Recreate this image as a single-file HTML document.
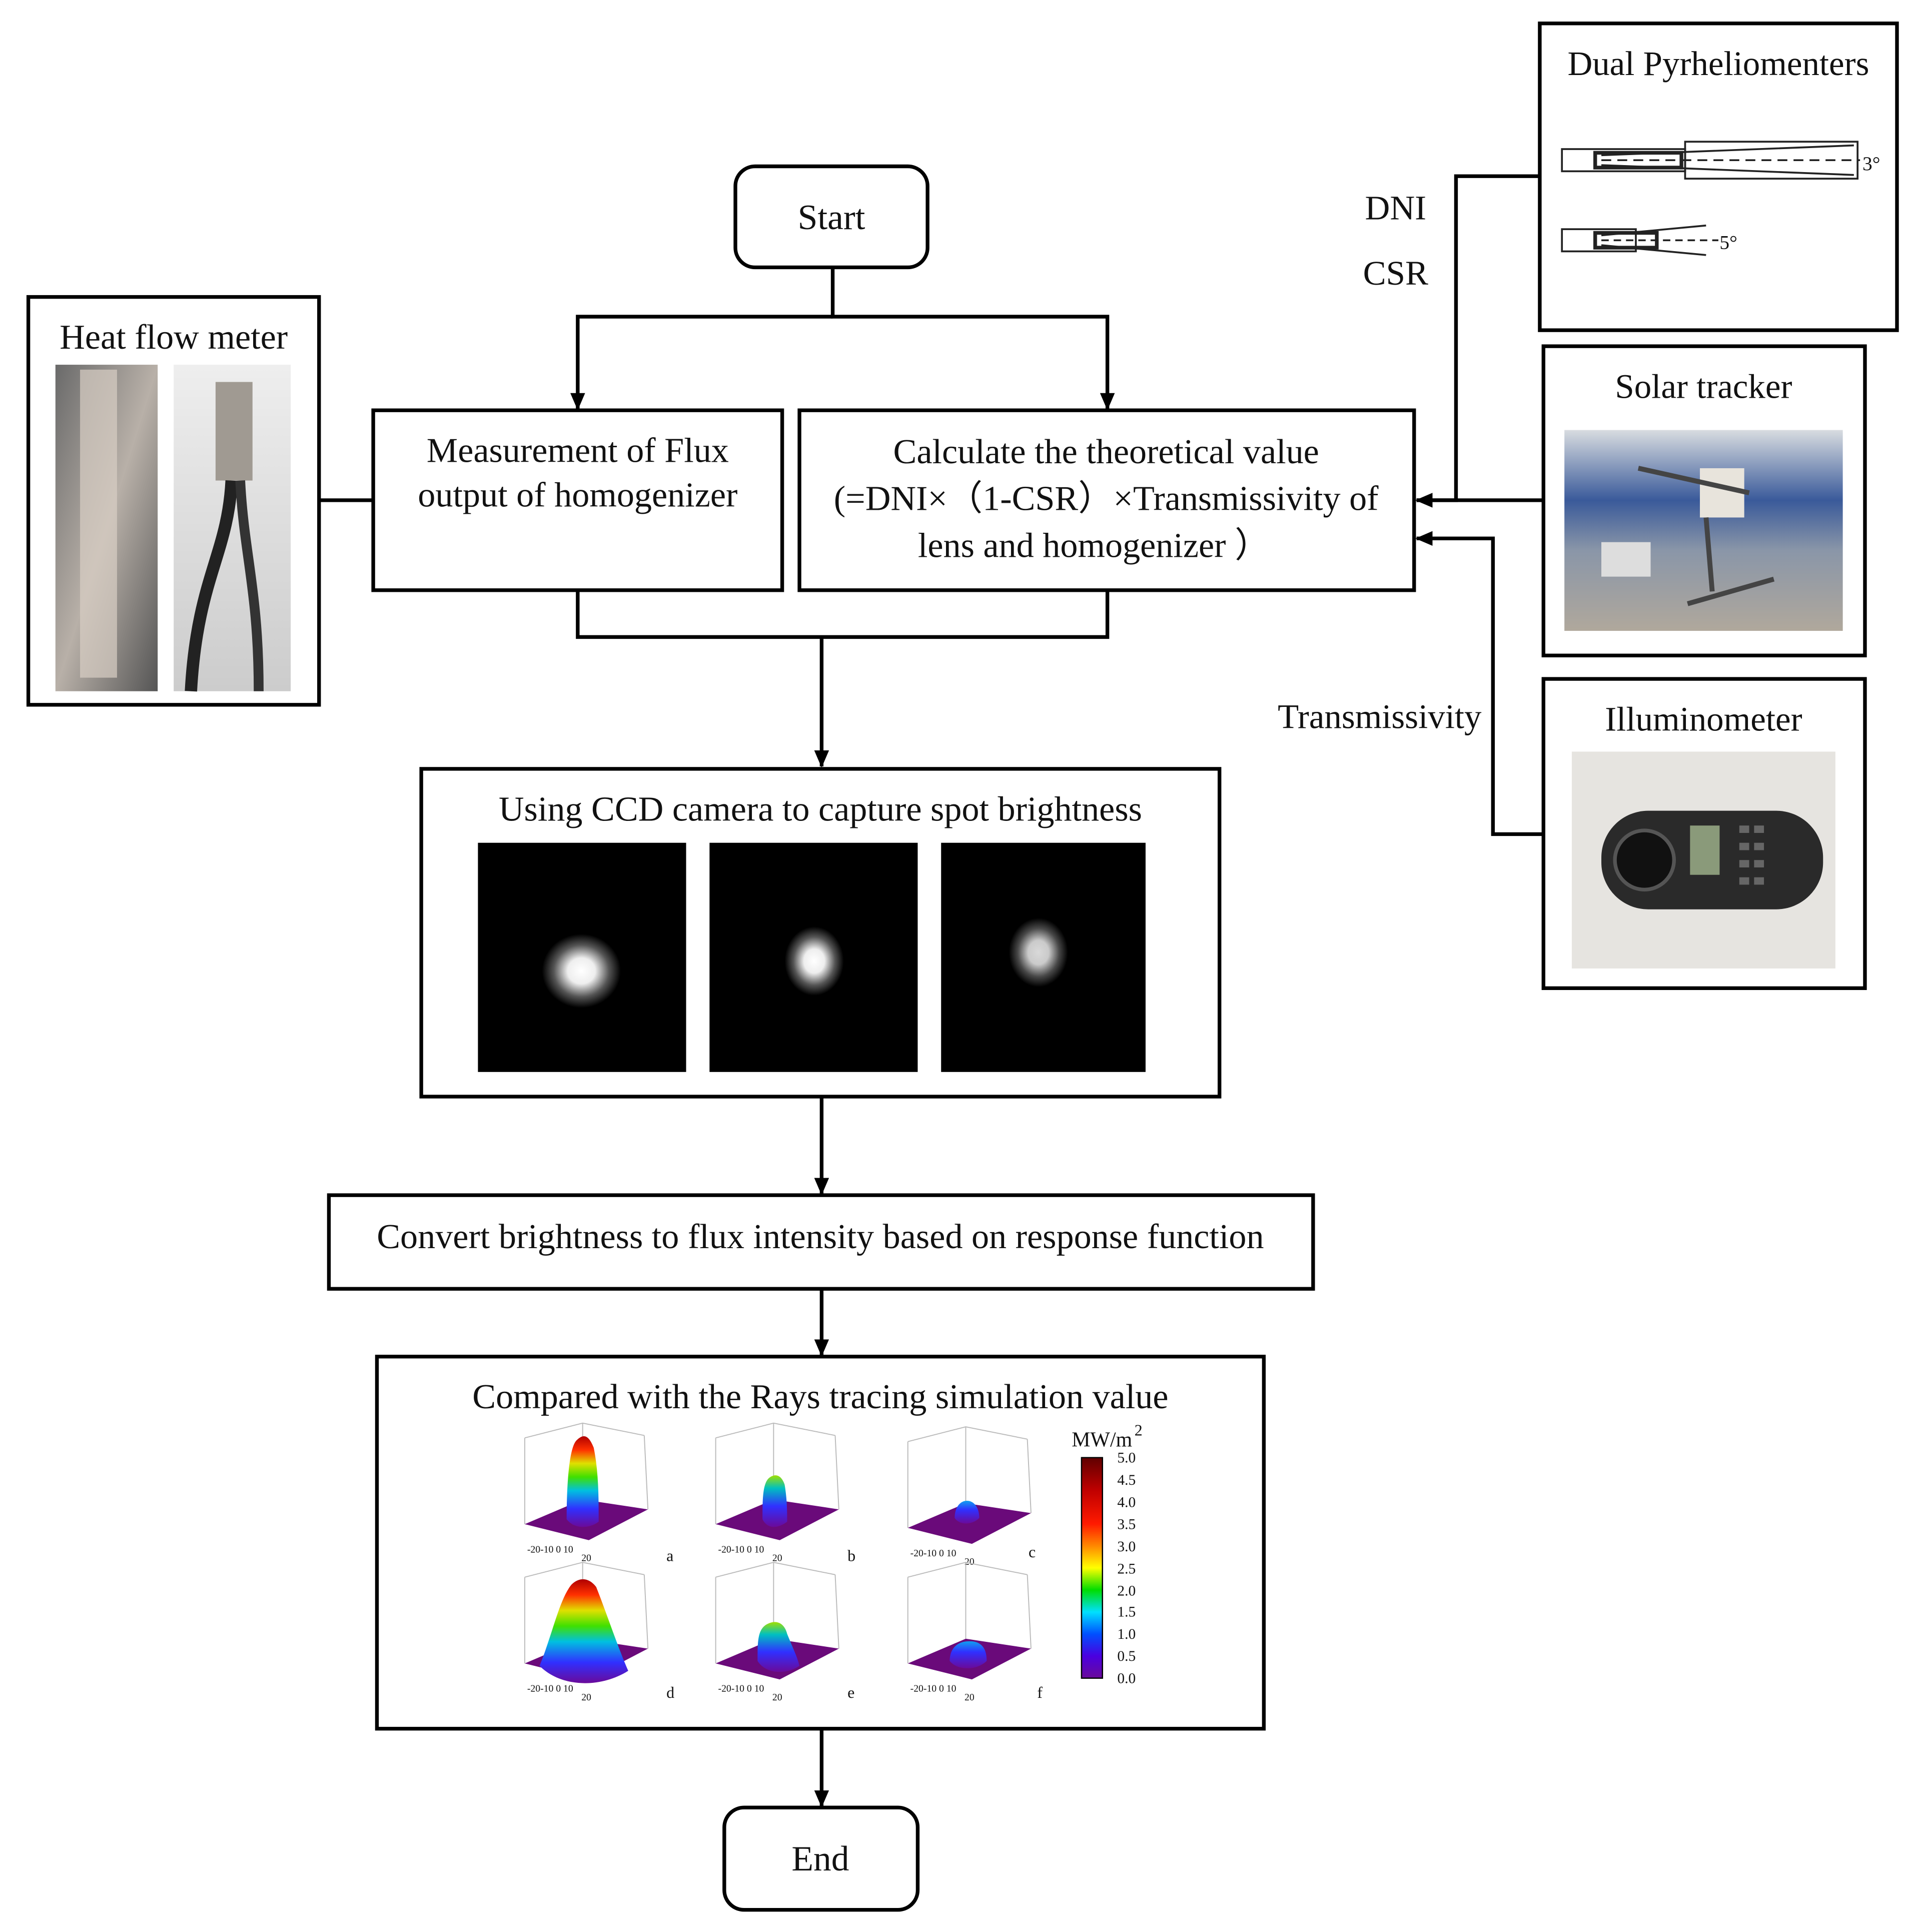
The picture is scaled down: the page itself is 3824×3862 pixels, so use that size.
<!DOCTYPE html>
<html><head><meta charset="utf-8"><style>
html,body{margin:0;padding:0;background:#fff;}
svg{display:block;}
text{font-family:"Liberation Serif",serif;fill:#111;}
</style></head><body>
<svg width="3824" height="3862" viewBox="0 0 1553 1568" preserveAspectRatio="none" xmlns="http://www.w3.org/2000/svg">
<defs>
<marker id="ar" viewBox="0 0 14 12" refX="13" refY="6" markerWidth="14" markerHeight="12" orient="auto" markerUnits="userSpaceOnUse"><path d="M0,0L14,6L0,12z" fill="#000"/></marker>
<linearGradient id="cb" x1="0" y1="1" x2="0" y2="0">
<stop offset="0" stop-color="#6a0a9a"/><stop offset="0.1" stop-color="#4a00e0"/><stop offset="0.2" stop-color="#0050ff"/><stop offset="0.3" stop-color="#00e0ff"/><stop offset="0.4" stop-color="#00dd00"/><stop offset="0.5" stop-color="#ffff00"/><stop offset="0.6" stop-color="#ff8800"/><stop offset="0.7" stop-color="#ff1a00"/><stop offset="0.85" stop-color="#c00000"/><stop offset="1" stop-color="#600000"/>
</linearGradient>
<linearGradient id="bh" x1="0" y1="1" x2="0" y2="0">
<stop offset="0" stop-color="#6a0a9a"/><stop offset="0.2" stop-color="#3030ff"/><stop offset="0.4" stop-color="#00c0e0"/><stop offset="0.55" stop-color="#40e000"/><stop offset="0.7" stop-color="#e0e000"/><stop offset="0.85" stop-color="#ff3000"/><stop offset="1" stop-color="#b00000"/>
</linearGradient>
<linearGradient id="bm" x1="0" y1="1" x2="0" y2="0">
<stop offset="0" stop-color="#6a0a9a"/><stop offset="0.4" stop-color="#3030ff"/><stop offset="0.75" stop-color="#00c0c0"/><stop offset="1" stop-color="#a0e000"/>
</linearGradient>
<linearGradient id="bl" x1="0" y1="1" x2="0" y2="0">
<stop offset="0" stop-color="#6a0a9a"/><stop offset="0.6" stop-color="#3030ff"/><stop offset="1" stop-color="#10a0f0"/>
</linearGradient>
<radialGradient id="sp"><stop offset="0" stop-color="#fff"/><stop offset="0.35" stop-color="#eee"/><stop offset="0.7" stop-color="#555"/><stop offset="1" stop-color="#000"/></radialGradient>
<linearGradient id="ph1" x1="0" y1="0" x2="1" y2="1"><stop offset="0" stop-color="#6a6a6a"/><stop offset="0.5" stop-color="#b8b0a8"/><stop offset="1" stop-color="#555"/></linearGradient>
<linearGradient id="ph2" x1="0" y1="0" x2="0" y2="1"><stop offset="0" stop-color="#eee"/><stop offset="1" stop-color="#ccc"/></linearGradient>
<linearGradient id="sky" x1="0" y1="0" x2="0" y2="1"><stop offset="0" stop-color="#d8dce0"/><stop offset="0.35" stop-color="#3a5a9a"/><stop offset="0.6" stop-color="#8a96a8"/><stop offset="1" stop-color="#b0a89c"/></linearGradient>
</defs>

<!-- Start -->
<rect x="597" y="135" width="156" height="82" rx="16" fill="#fff" stroke="#000" stroke-width="3"/>
<text x="675" y="186" font-size="29" text-anchor="middle">Start</text>

<g stroke="#000" stroke-width="3" fill="none">
<path d="M676,217 V257 H899 V332" marker-end="url(#ar)"/>
<path d="M676,257 H469 V332" marker-end="url(#ar)"/>
<path d="M469,479 V517 H899 V479"/>
<path d="M667,517 V622" marker-end="url(#ar)"/>
<path d="M667,890 V969" marker-end="url(#ar)"/>
<path d="M667,1046 V1100" marker-end="url(#ar)"/>
<path d="M667,1403 V1466" marker-end="url(#ar)"/>
<path d="M259,406 H303"/>
<path d="M1250,143 H1182 V406 H1150" marker-end="url(#ar)"/>
<path d="M1253,406 H1150" marker-end="url(#ar)"/>
<path d="M1253,677 H1212 V437 H1150" marker-end="url(#ar)"/>
</g>

<!-- Measurement -->
<rect x="303" y="333" width="332" height="146" fill="#fff" stroke="#000" stroke-width="3"/>
<text x="469" y="375" font-size="28.5" text-anchor="middle">Measurement of Flux</text>
<text x="469" y="411" font-size="28.5" text-anchor="middle">output of homogenizer</text>

<!-- Calculate -->
<rect x="649" y="333" width="499" height="146" fill="#fff" stroke="#000" stroke-width="3"/>
<text x="898" y="376" font-size="28.5" text-anchor="middle">Calculate the theoretical value</text>
<text x="898" y="414" font-size="28.5" text-anchor="middle">(=DNI×（1-CSR）×Transmissivity of</text>
<text x="888" y="452" font-size="28.5" text-anchor="middle">lens and homogenizer ）</text>

<!-- Heat flow meter -->
<rect x="23" y="241" width="236" height="331" fill="#fff" stroke="#000" stroke-width="3"/>
<text x="141" y="283" font-size="28.5" text-anchor="middle">Heat flow meter</text>
<rect x="45" y="296" width="83" height="265" fill="url(#ph1)"/>
<rect x="65" y="300" width="30" height="250" fill="#d8cfc4" opacity="0.7"/>
<rect x="141" y="296" width="95" height="265" fill="url(#ph2)"/>
<rect x="175" y="310" width="30" height="80" fill="#a09a92"/>
<path d="M188,390 C185,450 160,470 155,561" stroke="#222" stroke-width="10" fill="none"/>
<path d="M195,390 C198,450 210,480 210,561" stroke="#333" stroke-width="8" fill="none"/>

<!-- CCD -->
<rect x="342" y="624" width="648" height="266" fill="#fff" stroke="#000" stroke-width="3"/>
<text x="666" y="666" font-size="28.5" text-anchor="middle">Using CCD camera to capture spot brightness</text>
<rect x="388" y="684" width="169" height="186" fill="#000"/>
<rect x="576" y="684" width="169" height="186" fill="#000"/>
<rect x="764" y="684" width="166" height="186" fill="#000"/>
<ellipse cx="472" cy="788" rx="32" ry="30" fill="url(#sp)"/>
<ellipse cx="661" cy="780" rx="24" ry="28" fill="url(#sp)"/>
<ellipse cx="843" cy="773" rx="24" ry="28" fill="url(#sp)" opacity="0.85"/>

<!-- Convert -->
<rect x="267" y="970" width="799" height="76" fill="#fff" stroke="#000" stroke-width="3"/>
<text x="666" y="1013" font-size="28.5" text-anchor="middle">Convert brightness to flux intensity based on response function</text>

<!-- Compared -->
<rect x="306" y="1101" width="720" height="302" fill="#fff" stroke="#000" stroke-width="3"/>
<text x="666" y="1143" font-size="28.5" text-anchor="middle">Compared with the Rays tracing simulation value</text>

<g id="p1" transform="translate(398,1155)">
 <g stroke="#bbb" stroke-width="0.8" fill="none"><path d="M28,12 L75,0 L125,10"/><path d="M75,0 L75,62"/><path d="M125,10 L128,70"/><path d="M28,12 L28,82"/></g>
 <path d="M28,82 L75,62 L128,70 L80,95 Z" fill="#6a0a7a"/>
 <path d="M62,78 C62,50 64,20 70,14 C76,8 80,10 84,20 C88,40 88,60 88,80 C80,86 68,86 62,78z" fill="url(#bh)"/>
 <text x="30" y="105" font-size="8">-20-10 0 10</text><text x="74" y="112" font-size="8">20</text>
 <text x="143" y="112" font-size="13">a</text></g>
<g transform="translate(553,1155)">
 <g stroke="#bbb" stroke-width="0.8" fill="none"><path d="M28,12 L75,0 L125,10"/><path d="M75,0 L75,62"/><path d="M125,10 L128,70"/><path d="M28,12 L28,82"/></g>
 <path d="M28,82 L75,62 L128,70 L80,95 Z" fill="#6a0a7a"/>
 <path d="M66,78 C66,62 66,48 72,44 C78,40 82,44 84,50 C86,62 86,72 86,80 C78,86 70,86 66,78z" fill="url(#bm)"/>
 <text x="30" y="105" font-size="8">-20-10 0 10</text><text x="74" y="112" font-size="8">20</text>
 <text x="135" y="112" font-size="13">b</text></g>
<g transform="translate(709,1158)">
 <g stroke="#bbb" stroke-width="0.8" fill="none"><path d="M28,12 L75,0 L125,10"/><path d="M75,0 L75,62"/><path d="M125,10 L128,70"/><path d="M28,12 L28,82"/></g>
 <path d="M28,82 L75,62 L128,70 L80,95 Z" fill="#6a0a7a"/>
 <path d="M66,74 C66,66 70,60 76,60 C82,60 86,66 86,74 C80,80 70,80 66,74z" fill="url(#bl)"/>
 <text x="30" y="105" font-size="8">-20-10 0 10</text><text x="74" y="112" font-size="8">20</text>
 <text x="126" y="106" font-size="13">c</text></g>
<g transform="translate(398,1268)">
 <g stroke="#bbb" stroke-width="0.8" fill="none"><path d="M28,12 L75,0 L125,10"/><path d="M75,0 L75,62"/><path d="M125,10 L128,70"/><path d="M28,12 L28,82"/></g>
 <path d="M28,82 L75,62 L128,70 L80,95 Z" fill="#6a0a7a"/>
 <path d="M40,84 C50,60 56,30 66,18 C72,12 80,12 86,20 C94,40 104,70 112,88 C90,102 58,102 40,84z" fill="url(#bh)"/>
 <text x="30" y="105" font-size="8">-20-10 0 10</text><text x="74" y="112" font-size="8">20</text>
 <text x="143" y="110" font-size="13">d</text></g>
<g transform="translate(553,1268)">
 <g stroke="#bbb" stroke-width="0.8" fill="none"><path d="M28,12 L75,0 L125,10"/><path d="M75,0 L75,62"/><path d="M125,10 L128,70"/><path d="M28,12 L28,82"/></g>
 <path d="M28,82 L75,62 L128,70 L80,95 Z" fill="#6a0a7a"/>
 <path d="M62,80 C62,64 62,54 70,50 C78,46 84,50 86,58 C90,68 94,76 96,84 C84,92 68,90 62,80z" fill="url(#bm)"/>
 <text x="30" y="105" font-size="8">-20-10 0 10</text><text x="74" y="112" font-size="8">20</text>
 <text x="135" y="110" font-size="13">e</text></g>
<g transform="translate(709,1268)">
 <g stroke="#bbb" stroke-width="0.8" fill="none"><path d="M28,12 L75,0 L125,10"/><path d="M75,0 L75,62"/><path d="M125,10 L128,70"/><path d="M28,12 L28,82"/></g>
 <path d="M28,82 L75,62 L128,70 L80,95 Z" fill="#6a0a7a"/>
 <path d="M62,80 C62,70 68,64 78,64 C88,64 92,70 92,80 C84,88 68,88 62,80z" fill="url(#bl)"/>
 <text x="30" y="105" font-size="8">-20-10 0 10</text><text x="74" y="112" font-size="8">20</text>
 <text x="133" y="110" font-size="13">f</text></g>

<text x="870" y="1174" font-size="17">MW/m</text><text x="921" y="1165" font-size="13">2</text>
<rect x="878" y="1183" width="17" height="179" fill="url(#cb)" stroke="#000" stroke-width="1"/>
<g font-size="12">
<text x="907" y="1187">5.0</text><text x="907" y="1205">4.5</text><text x="907" y="1223">4.0</text><text x="907" y="1241">3.5</text><text x="907" y="1259">3.0</text><text x="907" y="1277">2.5</text><text x="907" y="1295">2.0</text><text x="907" y="1312">1.5</text><text x="907" y="1330">1.0</text><text x="907" y="1348">0.5</text><text x="907" y="1366">0.0</text>
</g>

<!-- End -->
<rect x="588" y="1467" width="157" height="83" rx="16" fill="#fff" stroke="#000" stroke-width="3"/>
<text x="666" y="1518" font-size="29" text-anchor="middle">End</text>

<!-- Labels -->
<text x="1133" y="178" font-size="28" text-anchor="middle">DNI</text>
<text x="1133" y="231" font-size="28" text-anchor="middle">CSR</text>
<text x="1120" y="591" font-size="28" text-anchor="middle">Transmissivity</text>

<!-- Dual Pyrheliomenters -->
<rect x="1250" y="19" width="290" height="249" fill="#fff" stroke="#000" stroke-width="3"/>
<text x="1395" y="61" font-size="28" text-anchor="middle">Dual Pyrheliomenters</text>
<g stroke="#222" fill="none" stroke-width="1.5">
<rect x="1268" y="121" width="100" height="18"/>
<rect x="1295" y="124" width="70" height="12" stroke-width="3"/>
<rect x="1368" y="115" width="140" height="30"/>
<path d="M1300,130 H1510" stroke-dasharray="8,5"/>
<path d="M1300,126 L1505,118 M1300,134 L1505,142"/>
<rect x="1268" y="186" width="60" height="18"/>
<rect x="1295" y="189" width="50" height="12" stroke-width="3"/>
<path d="M1300,195 H1395" stroke-dasharray="6,4"/>
<path d="M1300,191 L1385,183 M1300,199 L1385,207"/>
</g>
<text x="1512" y="138" font-size="16">3°</text>
<text x="1396" y="202" font-size="16">5°</text>

<!-- Solar tracker -->
<rect x="1253" y="281" width="261" height="251" fill="#fff" stroke="#000" stroke-width="3"/>
<text x="1383" y="323" font-size="28" text-anchor="middle">Solar tracker</text>
<rect x="1270" y="349" width="226" height="163" fill="url(#sky)"/>
<rect x="1380" y="380" width="36" height="40" fill="#e8e4dc"/>
<rect x="1300" y="440" width="40" height="28" fill="#ddd"/>
<path d="M1330,380 L1420,400 M1385,420 L1390,480 M1370,490 L1440,470" stroke="#444" stroke-width="4"/>

<!-- Illuminometer -->
<rect x="1253" y="551" width="261" height="251" fill="#fff" stroke="#000" stroke-width="3"/>
<text x="1383" y="593" font-size="28" text-anchor="middle">Illuminometer</text>
<rect x="1276" y="610" width="214" height="176" fill="#e6e4e0"/>
<rect x="1300" y="658" width="180" height="80" rx="38" fill="#2a2a2a"/>
<circle cx="1335" cy="698" r="24" fill="#111" stroke="#555" stroke-width="3"/>
<rect x="1372" y="670" width="24" height="40" fill="#8a9a7a"/>
<g fill="#666"><rect x="1412" y="670" width="8" height="6"/><rect x="1424" y="670" width="8" height="6"/><rect x="1412" y="684" width="8" height="6"/><rect x="1424" y="684" width="8" height="6"/><rect x="1412" y="698" width="8" height="6"/><rect x="1424" y="698" width="8" height="6"/><rect x="1412" y="712" width="8" height="6"/><rect x="1424" y="712" width="8" height="6"/></g>
</svg>
</body></html>
